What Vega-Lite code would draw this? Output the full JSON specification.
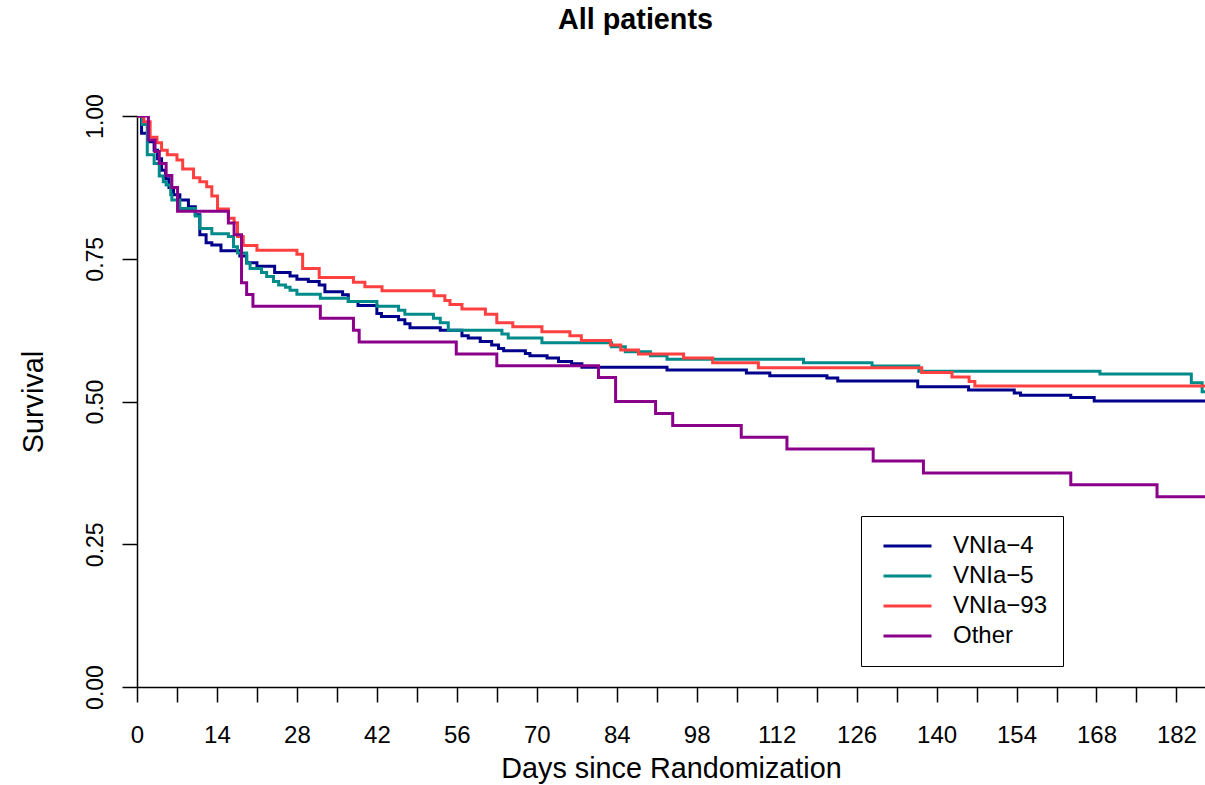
{
  "$schema": "https://vega.github.io/schema/vega-lite/v6.json",
  "width": 1068,
  "height": 571,
  "autosize": {"type": "none"},
  "padding": {"left": 137, "top": 116, "right": 0, "bottom": 98},
  "background": "white",
  "title": {"text": "All patients", "font": "Liberation Sans", "fontSize": 28.75, "fontWeight": "bold", "anchor": "middle", "frame": "group", "dx": -35.5, "baseline": "alphabetic", "offset": 36, "color": "black"},
  "config": {"view": {"stroke": null}, "font": "Liberation Sans"},
  "datasets": {
    "km": [
      {"g":"VNIa-4","d":0,"s":1},{"g":"VNIa-4","d":0.8,"s":0.97},{"g":"VNIa-4","d":2.0,"s":0.955},{"g":"VNIa-4","d":3.0,"s":0.94},{"g":"VNIa-4","d":3.6,"s":0.925},{"g":"VNIa-4","d":4.3,"s":0.905},{"g":"VNIa-4","d":5.0,"s":0.89},{"g":"VNIa-4","d":5.6,"s":0.875},{"g":"VNIa-4","d":6.4,"s":0.862},{"g":"VNIa-4","d":7.5,"s":0.853},{"g":"VNIa-4","d":9.0,"s":0.841},{"g":"VNIa-4","d":10.2,"s":0.827},{"g":"VNIa-4","d":11.0,"s":0.792},{"g":"VNIa-4","d":12.1,"s":0.778},{"g":"VNIa-4","d":13.1,"s":0.774},{"g":"VNIa-4","d":14.7,"s":0.764},{"g":"VNIa-4","d":18.0,"s":0.755},{"g":"VNIa-4","d":19.2,"s":0.743},{"g":"VNIa-4","d":21.0,"s":0.737},{"g":"VNIa-4","d":24.1,"s":0.726},{"g":"VNIa-4","d":26.8,"s":0.72},{"g":"VNIa-4","d":28.0,"s":0.714},{"g":"VNIa-4","d":30.0,"s":0.71},{"g":"VNIa-4","d":31.9,"s":0.704},{"g":"VNIa-4","d":32.9,"s":0.692},{"g":"VNIa-4","d":36.0,"s":0.687},{"g":"VNIa-4","d":37.0,"s":0.675},{"g":"VNIa-4","d":38.7,"s":0.668},{"g":"VNIa-4","d":42.0,"s":0.654},{"g":"VNIa-4","d":42.8,"s":0.649},{"g":"VNIa-4","d":45.8,"s":0.643},{"g":"VNIa-4","d":46.9,"s":0.636},{"g":"VNIa-4","d":47.8,"s":0.629},{"g":"VNIa-4","d":53.1,"s":0.625},{"g":"VNIa-4","d":56.9,"s":0.615},{"g":"VNIa-4","d":58.0,"s":0.611},{"g":"VNIa-4","d":60.1,"s":0.605},{"g":"VNIa-4","d":62.1,"s":0.599},{"g":"VNIa-4","d":63.3,"s":0.593},{"g":"VNIa-4","d":64.2,"s":0.589},{"g":"VNIa-4","d":68.0,"s":0.584},{"g":"VNIa-4","d":68.8,"s":0.58},{"g":"VNIa-4","d":71.8,"s":0.576},{"g":"VNIa-4","d":73.8,"s":0.57},{"g":"VNIa-4","d":76.1,"s":0.566},{"g":"VNIa-4","d":77.9,"s":0.56},{"g":"VNIa-4","d":92.8,"s":0.555},{"g":"VNIa-4","d":106.7,"s":0.55},{"g":"VNIa-4","d":110.8,"s":0.545},{"g":"VNIa-4","d":120.8,"s":0.541},{"g":"VNIa-4","d":122.7,"s":0.536},{"g":"VNIa-4","d":136.7,"s":0.526},{"g":"VNIa-4","d":145.6,"s":0.52},{"g":"VNIa-4","d":153.6,"s":0.515},{"g":"VNIa-4","d":154.7,"s":0.511},{"g":"VNIa-4","d":163.5,"s":0.507},{"g":"VNIa-4","d":167.6,"s":0.501},{"g":"VNIa-4","d":187,"s":0.501},

      {"g":"VNIa-5","d":0,"s":1},{"g":"VNIa-5","d":0.9,"s":0.985},{"g":"VNIa-5","d":1.8,"s":0.932},{"g":"VNIa-5","d":3.0,"s":0.917},{"g":"VNIa-5","d":3.9,"s":0.895},{"g":"VNIa-5","d":4.6,"s":0.885},{"g":"VNIa-5","d":5.1,"s":0.879},{"g":"VNIa-5","d":5.9,"s":0.862},{"g":"VNIa-5","d":6.1,"s":0.853},{"g":"VNIa-5","d":7.5,"s":0.838},{"g":"VNIa-5","d":10.2,"s":0.825},{"g":"VNIa-5","d":11.0,"s":0.803},{"g":"VNIa-5","d":13.1,"s":0.794},{"g":"VNIa-5","d":16.0,"s":0.789},{"g":"VNIa-5","d":16.9,"s":0.771},{"g":"VNIa-5","d":17.6,"s":0.76},{"g":"VNIa-5","d":19.2,"s":0.742},{"g":"VNIa-5","d":19.8,"s":0.733},{"g":"VNIa-5","d":21.8,"s":0.726},{"g":"VNIa-5","d":22.7,"s":0.719},{"g":"VNIa-5","d":23.9,"s":0.71},{"g":"VNIa-5","d":24.8,"s":0.704},{"g":"VNIa-5","d":26.0,"s":0.7},{"g":"VNIa-5","d":26.8,"s":0.695},{"g":"VNIa-5","d":28.0,"s":0.688},{"g":"VNIa-5","d":32.1,"s":0.681},{"g":"VNIa-5","d":37.0,"s":0.675},{"g":"VNIa-5","d":42.0,"s":0.667},{"g":"VNIa-5","d":45.8,"s":0.66},{"g":"VNIa-5","d":46.9,"s":0.653},{"g":"VNIa-5","d":51.9,"s":0.646},{"g":"VNIa-5","d":53.1,"s":0.638},{"g":"VNIa-5","d":54.5,"s":0.625},{"g":"VNIa-5","d":63.9,"s":0.618},{"g":"VNIa-5","d":65.0,"s":0.611},{"g":"VNIa-5","d":70.9,"s":0.603},{"g":"VNIa-5","d":83.1,"s":0.596},{"g":"VNIa-5","d":85.5,"s":0.587},{"g":"VNIa-5","d":89.9,"s":0.58},{"g":"VNIa-5","d":92.8,"s":0.574},{"g":"VNIa-5","d":116.7,"s":0.568},{"g":"VNIa-5","d":128.7,"s":0.562},{"g":"VNIa-5","d":136.9,"s":0.553},{"g":"VNIa-5","d":168.6,"s":0.548},{"g":"VNIa-5","d":184.6,"s":0.533},{"g":"VNIa-5","d":186.5,"s":0.517},{"g":"VNIa-5","d":187,"s":0.517},

      {"g":"VNIa-93","d":0,"s":1},{"g":"VNIa-93","d":1.2,"s":0.99},{"g":"VNIa-93","d":2.3,"s":0.963},{"g":"VNIa-93","d":3.5,"s":0.953},{"g":"VNIa-93","d":4.3,"s":0.94},{"g":"VNIa-93","d":5.3,"s":0.932},{"g":"VNIa-93","d":7.0,"s":0.923},{"g":"VNIa-93","d":8.0,"s":0.907},{"g":"VNIa-93","d":9.9,"s":0.892},{"g":"VNIa-93","d":11.0,"s":0.885},{"g":"VNIa-93","d":12.2,"s":0.876},{"g":"VNIa-93","d":13.1,"s":0.86},{"g":"VNIa-93","d":14.1,"s":0.837},{"g":"VNIa-93","d":16.0,"s":0.821},{"g":"VNIa-93","d":17.0,"s":0.813},{"g":"VNIa-93","d":17.6,"s":0.789},{"g":"VNIa-93","d":18.6,"s":0.773},{"g":"VNIa-93","d":21.0,"s":0.765},{"g":"VNIa-93","d":28.0,"s":0.758},{"g":"VNIa-93","d":29.0,"s":0.733},{"g":"VNIa-93","d":31.9,"s":0.717},{"g":"VNIa-93","d":37.9,"s":0.709},{"g":"VNIa-93","d":39.9,"s":0.701},{"g":"VNIa-93","d":42.9,"s":0.694},{"g":"VNIa-93","d":52.0,"s":0.685},{"g":"VNIa-93","d":53.9,"s":0.677},{"g":"VNIa-93","d":54.8,"s":0.67},{"g":"VNIa-93","d":56.9,"s":0.662},{"g":"VNIa-93","d":61.0,"s":0.653},{"g":"VNIa-93","d":63.0,"s":0.638},{"g":"VNIa-93","d":65.8,"s":0.631},{"g":"VNIa-93","d":70.9,"s":0.622},{"g":"VNIa-93","d":75.8,"s":0.615},{"g":"VNIa-93","d":77.8,"s":0.607},{"g":"VNIa-93","d":82.9,"s":0.599},{"g":"VNIa-93","d":84.7,"s":0.59},{"g":"VNIa-93","d":87.8,"s":0.583},{"g":"VNIa-93","d":95.7,"s":0.576},{"g":"VNIa-93","d":100.8,"s":0.568},{"g":"VNIa-93","d":108.8,"s":0.559},{"g":"VNIa-93","d":137.4,"s":0.551},{"g":"VNIa-93","d":142.7,"s":0.543},{"g":"VNIa-93","d":145.7,"s":0.535},{"g":"VNIa-93","d":146.7,"s":0.527},{"g":"VNIa-93","d":187,"s":0.527},

      {"g":"Other","d":0,"s":1},{"g":"Other","d":2.0,"s":0.958},{"g":"Other","d":3.15,"s":0.938},{"g":"Other","d":3.9,"s":0.917},{"g":"Other","d":5.1,"s":0.896},{"g":"Other","d":6.1,"s":0.875},{"g":"Other","d":7.1,"s":0.833},{"g":"Other","d":16.0,"s":0.8125},{"g":"Other","d":17.0,"s":0.792},{"g":"Other","d":18.3,"s":0.708},{"g":"Other","d":19.2,"s":0.6875},{"g":"Other","d":20.3,"s":0.667},{"g":"Other","d":32.1,"s":0.646},{"g":"Other","d":37.9,"s":0.625},{"g":"Other","d":38.9,"s":0.604},{"g":"Other","d":55.9,"s":0.583},{"g":"Other","d":63.0,"s":0.5625},{"g":"Other","d":80.8,"s":0.542},{"g":"Other","d":83.8,"s":0.5},{"g":"Other","d":90.8,"s":0.479},{"g":"Other","d":93.8,"s":0.458},{"g":"Other","d":105.8,"s":0.4375},{"g":"Other","d":113.8,"s":0.417},{"g":"Other","d":128.9,"s":0.396},{"g":"Other","d":137.7,"s":0.375},{"g":"Other","d":163.5,"s":0.354},{"g":"Other","d":178.6,"s":0.333},{"g":"Other","d":187,"s":0.333}
    ]
  },
  "data": {"name": "km"},
  "mark": {"type": "line", "interpolate": "step-after", "strokeWidth": 3, "clip": true},
  "encoding": {
    "x": {
      "field": "d", "type": "quantitative",
      "scale": {"domain": [0, 187], "nice": false, "zero": false},
      "axis": {
        "values": [0,7,14,21,28,35,42,49,56,63,70,77,84,91,98,105,112,119,126,133,140,147,154,161,168,175,182],
        "labelExpr": "datum.value % 14 == 0 ? datum.label : ''",
        "grid": false, "tickSize": 15, "tickWidth": 1.5, "tickColor": "black", "domainColor": "black", "domainWidth": 1.5,
        "labelFontSize": 24, "labelColor": "black", "labelBaseline": "alphabetic", "labelPadding": 40, "labelFlush": false, "labelOverlap": false,
        "title": "Days since Randomization", "titleFontSize": 28.75, "titleFontWeight": "normal", "titleColor": "black", "titleBaseline": "alphabetic", "titleY": 90
      }
    },
    "y": {
      "field": "s", "type": "quantitative",
      "scale": {"domain": [0, 1], "nice": false},
      "axis": {
        "values": [0, 0.25, 0.5, 0.75, 1], "format": ".2f",
        "grid": false, "tickSize": 15, "tickWidth": 1.5, "tickColor": "black", "domainColor": "black", "domainWidth": 1.5,
        "labelAngle": -90, "labelAlign": "center", "labelBaseline": "alphabetic", "labelPadding": 20,
        "labelFontSize": 23, "labelColor": "black", "labelFlush": false, "labelOverlap": false,
        "title": "Survival", "titleFontSize": 28.75, "titleFontWeight": "normal", "titleColor": "black", "titleBaseline": "alphabetic", "titleX": -95, "titleY": 285.5, "titleAngle": -90
      }
    },
    "color": {
      "field": "g", "type": "nominal",
      "scale": {"domain": ["VNIa-4", "VNIa-5", "VNIa-93", "Other"], "range": ["#00008B", "#008B8B", "#FF4040", "#8B008B"]},
      "legend": {
        "orient": "none", "legendX": 724, "legendY": 400, "title": null,
        "strokeColor": "black", "fillColor": "white", "padding": 15,
        "symbolType": "stroke", "symbolSize": 2304, "symbolStrokeWidth": 3, "symbolOffset": 6,
        "clipHeight": 30, "rowPadding": 0,
        "labelFontSize": 24, "labelColor": "black", "labelOffset": 20,
        "labelExpr": "replace(datum.label, '-', '\u2212')"
      }
    }
  }
}
